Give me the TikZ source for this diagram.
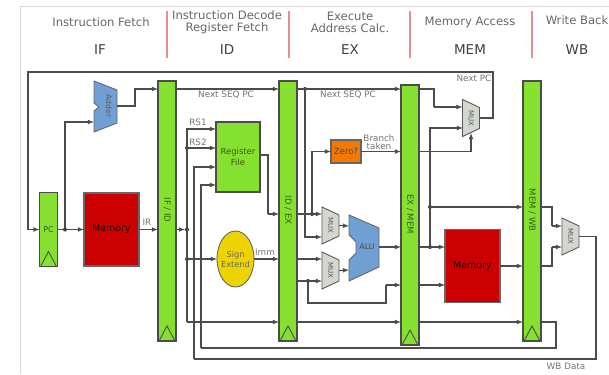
\documentclass[tikz,border=0pt]{standalone}
\usepackage{fontspec}
\setmainfont{DejaVu Sans}
\usetikzlibrary{calc,shapes.geometric}

\definecolor{latchgreen}{HTML}{86E030}
\definecolor{memred}{HTML}{CC0000}
\definecolor{muxgrey}{HTML}{D3D7CF}
\definecolor{aluBlue}{HTML}{6F9FD4}
\definecolor{sepred}{HTML}{E58F8F}
\definecolor{zeroOrange}{HTML}{F57900}
\definecolor{signYellow}{HTML}{EDD400}

\begin{document}
\begin{tikzpicture}[x=1pt, y=-1pt,
 wire/.style={line width=1.1pt,draw=black!70},
 arr/.style={wire,-latex},
 dot/.style={circle,fill=black!80,inner sep=0pt,minimum size=4pt,outer sep=0pt},
 latch/.style={draw=black!70,line width=1.1pt,fill=latchgreen,minimum width=18pt,outer sep=0pt,inner sep=0pt},
 barlabel/.style={rotate=-90,font=\fontsize{8.5}{9}\selectfont,text=black!60!latchgreen},
 memblock/.style={draw=black!60,line width=1.1pt,fill=memred,minimum width=55pt,minimum height=73pt,outer sep=0pt,font=\fontsize{9.5}{10}\selectfont,text=black!85!memred},
 muxbox/.style={minimum width=17pt,minimum height=37pt,inner sep=0pt,outer sep=0pt},
 muxshape/.style={draw=black!65,line width=0.9pt,fill=muxgrey},
 muxtext/.style={rotate=-90,inner sep=0pt,font=\fontsize{7}{8}\selectfont,text=black!65},
 header/.style={align=center,font=\fontsize{11.6}{12}\selectfont,text=black!60},
 stage/.style={font=\fontsize{13.5}{14}\selectfont,text=black!75},
 small/.style={align=center,font=\fontsize{8.8}{8.5}\selectfont,text=black!55,inner sep=0pt},
 sep/.style={line width=1.1pt,draw=sepred},
]

\useasboundingbox (0,0) rectangle (609,374);

\draw [line width=1pt,black!15] (20,374) -- (20,7) -- (609,7);

% stage titles
\node[header] (tif) at (101,22.5) {Instruction Fetch};
\node[header] (tid) at (227,22) {Instruction Decode\\Register Fetch};
\node[header] (tex) at (350,22) {Execute\\Address Calc.};
\node[header] (tmem) at (470,22.5) {Memory Access};
\node[header] (twb) at (577,20.5) {Write Back};
\node[stage] (sif) at (100,50) {IF};
\node[stage] (sid) at (227,50) {ID};
\node[stage] (sex) at (350,50) {EX};
\node[stage] (smem) at (470,50) {MEM};
\node[stage] (swb) at (577,50) {WB};
\foreach \x in {167,289,410,532}
 \draw [sep] (\x,11) -- (\x,58);

% latches and blocks
\node[latch,minimum height=74pt] (pcreg) at (48.5,229.5) {};
\node[latch,minimum height=260pt] (ifid) at (167,211) {};
\node[latch,minimum height=260pt] (idex) at (288,211) {};
\node[latch,minimum height=260pt] (exmem) at (410,215) {};
\node[latch,minimum height=260pt] (memwb) at (532,211) {};
\foreach \b in {pcreg,ifid,idex,exmem,memwb}
 \draw [draw=black!70,line width=0.9pt] ($(\b.south west)+(1,0)$) -- ($(\b.south)+(0,-15)$) -- ($(\b.south east)+(-1,0)$);

\node[font=\fontsize{8}{9}\selectfont,text=black!60!latchgreen,inner sep=0pt] (lpc) at (pcreg) {PC};
\node[barlabel] (lifid) at (167,210) {IF / ID};
\node[barlabel] (lidex) at (288,210) {ID / EX};
\node[barlabel] (lexmem) at (410,214) {EX / MEM};
\node[barlabel] (lmemwb) at (532,210) {MEM / WB};

\node[memblock] (memA) at (111.5,229.5) {Memory};
\node[memblock] (memB) at (472.5,266) {Memory};
\node[draw=black!70,line width=1.1pt,fill=latchgreen,minimum width=44pt,minimum height=70pt,outer sep=0pt,inner sep=0pt,align=center,font=\fontsize{8.4}{11}\selectfont,text=black!60!latchgreen] (regfile) at (238,157) {Register\\File};
\node[ellipse,draw=black!60,line width=0.9pt,fill=signYellow,minimum width=37pt,minimum height=56pt,inner sep=0pt,outer sep=0pt] (signext) at (235.5,259) {};
\node[align=center,inner sep=0pt,font=\fontsize{8.2}{10}\selectfont,text=black!60] (signtext) at (signext) {Sign\\Extend};
\node[draw=black!60,line width=1.1pt,fill=zeroOrange,minimum width=30pt,minimum height=23pt,inner sep=0pt,outer sep=0pt,font=\fontsize{8.5}{9}\selectfont,text=black!70] (zero) at (346,151.5) {Zero?};

\draw [draw=black!60,line width=0.9pt,fill=aluBlue] (94,81) -- (117,90) -- (117,123) -- (94,132) -- (94,111) -- (99,107) -- (94,103) -- cycle;
\node[rotate=-90,inner sep=0pt,font=\fontsize{7.5}{8}\selectfont,text=black!65] (adder) at (109,106) {Adder};
\draw [draw=black!60,line width=0.9pt,fill=aluBlue] (349,215) -- (379,228) -- (379,267) -- (349,281) -- (349,260) -- (356,253) -- (356,242) -- (349,235) -- cycle;
\node[inner sep=0pt,font=\fontsize{8}{9}\selectfont,text=black!70] (alu) at (367,247) {ALU};

\foreach \m/\x/\y in {muxa/330.5/225.5,muxb/330.5/270.5,muxpc/471/118,muxwb/570.5/236.5} {
 \node[muxbox] (\m) at (\x,\y) {};
 \draw [muxshape] (\m.north west) -- ($(\m.north east)+(0,8)$) -- ($(\m.south east)+(0,-8)$) -- (\m.south west) -- cycle;
 \node[muxtext] (\m label) at (\m) {MUX};
}

% junctions
\node[dot] (dpc) at (65,229.5) {};
\node[dot] (dinst) at (187,229.5) {};
\node[dot] (drs) at (187,148) {};
\node[dot] (dimm) at (187,259) {};
\node[dot] (dseq) at (305,89) {};
\node[dot] (dzero) at (312,214) {};
\node[dot] (dfwd) at (308,281) {};
\node[dot] (dalu) at (430,247) {};
\node[dot] (daddr) at (430,207) {};

\coordinate (topright) at (493,72);
\coordinate (topleft) at (28,72);
\coordinate (adderin) at (94,122);
\coordinate (adderout) at (117,106);
\coordinate (addbend) at (135,89);
\coordinate (rstop) at (187,129);
\coordinate (rsbot) at (187,322);
\coordinate (regwd) at (216,167);
\coordinate (regout) at (260,155);
\coordinate (regbend) at (268,214);
\coordinate (wbcorner) at (596,359);
\coordinate (wbleft) at (194,359);
\coordinate (retcorner) at (556,348);
\coordinate (retleft) at (201,348);
\coordinate (regrd) at (216,185);
\coordinate (muxaB) at (322,237);
\coordinate (muxaA) at (322,214);
\coordinate (muxbA) at (322,259);
\coordinate (muxbB) at (322,281);
\coordinate (aluA) at (349,226);
\coordinate (aluB) at (349,270);
\coordinate (aluout) at (379,247);
\coordinate (fwdcorner) at (308,303);
\coordinate (fwdup) at (386,285);
\coordinate (seqbend) at (434,107);
\coordinate (muxpcB) at (463,128);
\coordinate (muxpcsel) at (471,133);
\coordinate (wbbendA) at (552,226);
\coordinate (wbbendB) at (552,247);

% fetch
\draw [arr] (muxpc.east) -| (topright) -- (topleft) |- (pcreg.west);
\draw [arr] (pcreg.east) -- (memA.west);
\draw [arr] (dpc) |- (adderin);
\draw [arr] (adderout) -| (addbend) -- (ifid.west |- addbend);
\draw [arr] (memA.east) -- (ifid.west |- memA.east);

% decode
\draw [arr] (ifid.east |- addbend) -- (idex.west |- addbend);
\draw [arr] (ifid.east |- dinst) -- (dinst);
\draw [arr] (rsbot) -- (rstop) -- (regfile.west |- rstop);
\draw [arr] (drs) -- (regfile.west |- drs);
\draw [arr] (dimm) -- (signext.west);
\draw [arr] (signext.east) -- (idex.west |- signext.east);
\draw [arr] (rsbot) -- (idex.west |- rsbot);
\draw [arr] (wbleft) |- (regwd);
\draw [arr] (retleft) |- (regrd);
\draw [wire] (regout) -| (regbend);
\draw [arr] (regbend) -- (idex.west |- regbend);

% execute
\draw [arr] (idex.east |- addbend) -- (exmem.west |- addbend);
\draw [arr] (dseq) |- (muxaB);
\draw [arr] (idex.east |- dzero) -- (muxaA);
\draw [arr] (dzero) |- (zero.west);
\draw [arr] (zero.east) -- (exmem.west |- zero.east);
\draw [arr] (idex.east |- muxbA) -- (muxbA);
\draw [arr] (idex.east |- muxbB) -- (muxbB);
\draw [arr] (muxa.east) -- (aluA);
\draw [arr] (muxb.east) -- (aluB);
\draw [arr] (aluout) -- (exmem.west |- aluout);
\draw [wire] (dfwd) -- (fwdcorner) -| (fwdup);
\draw [arr] (fwdup) -- (exmem.west |- fwdup);
\draw [arr] (idex.east |- rsbot) -- (exmem.west |- rsbot);

% memory
\draw [wire] (exmem.east |- addbend) -| (seqbend);
\draw [arr] (seqbend) -- (muxpc.west |- seqbend);
\draw [arr] (exmem.east |- zero.east) -| (muxpcsel);
\draw [arr] (dalu) |- (muxpcB);
\draw [arr] (exmem.east |- dalu) -- (memB.west |- dalu);
\draw [arr] (daddr) -- (memwb.west |- daddr);
\draw [arr] (exmem.east |- fwdup) -- (memB.west |- fwdup);
\draw [arr] (memB.east) -- (memwb.west |- memB.east);
\draw [arr] (exmem.east |- rsbot) -- (memwb.west |- rsbot);

% write back
\draw [wire] (memwb.east |- daddr) -| (wbbendA);
\draw [arr] (wbbendA) -- (muxwb.west |- wbbendA);
\draw [wire] (memwb.east |- memB.east) -| (wbbendB);
\draw [arr] (wbbendB) -- (muxwb.west |- wbbendB);
\draw [wire] (muxwb.east) -| (wbcorner) -- (wbleft);
\draw [wire] (memwb.east |- rsbot) -| (retcorner) -- (retleft);

% labels
\node[small] (lir) at (147,222) {IR};
\node[small] (lseqa) at (226,95) {Next SEQ PC};
\node[small] (lseqb) at (348,95) {Next SEQ PC};
\node[small] (lrsa) at (198,122) {RS1};
\node[small] (lrsb) at (198,142) {RS2};
\node[small] (limm) at (265,252) {Imm};
\node[small] (lbranch) at (379,142) {Branch\\taken};
\node[small] (lnext) at (474,78.5) {Next PC};
\node[small] (lwb) at (566,366.5) {WB Data};

\end{tikzpicture}
\end{document}
